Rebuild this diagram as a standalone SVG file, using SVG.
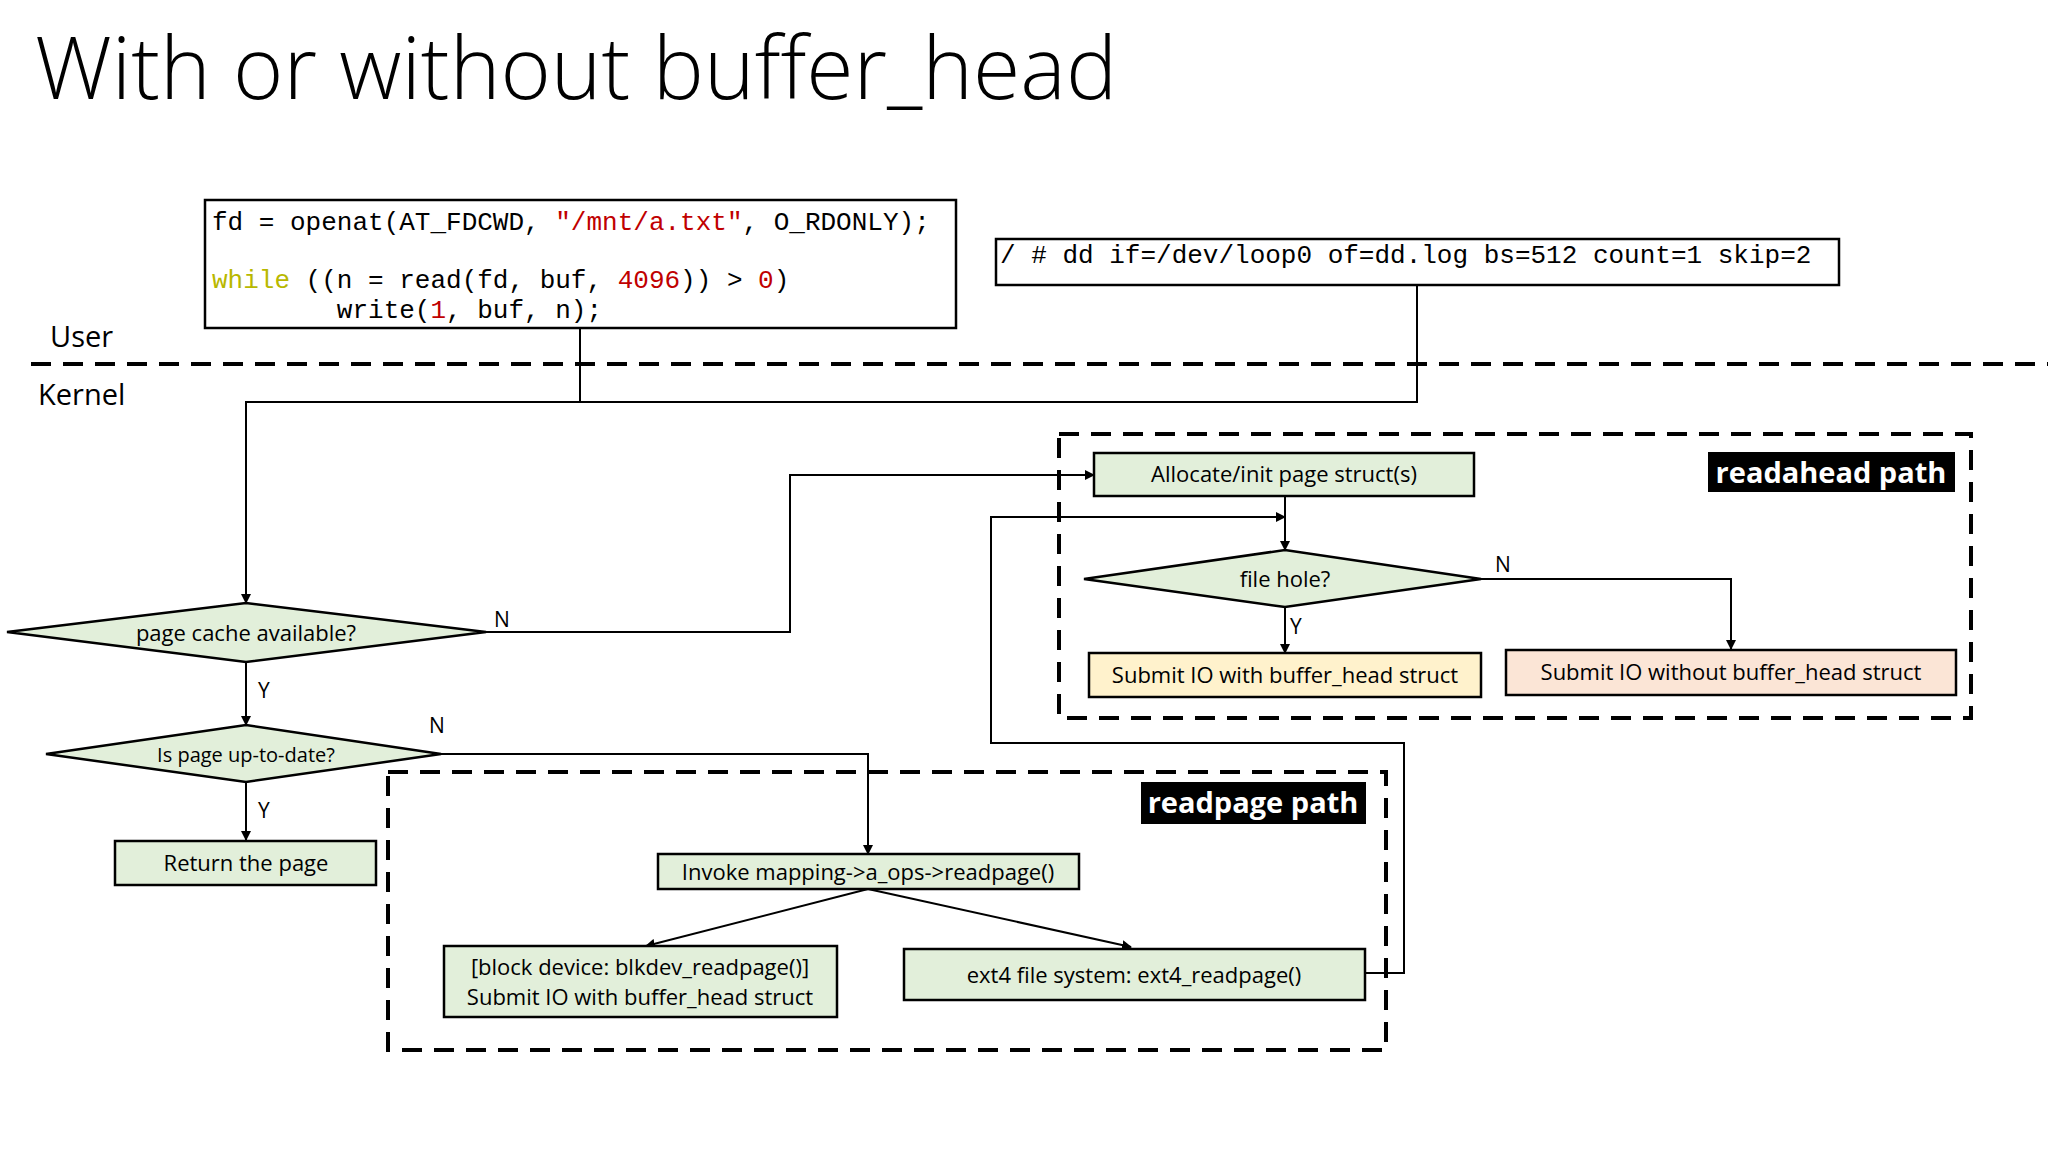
<svg xmlns="http://www.w3.org/2000/svg" width="2048" height="1152" viewBox="0 0 2048 1152">
<defs>
<style>
.t{font-family:"Open Sans","Liberation Sans",sans-serif;font-size:22px;fill:#000;text-anchor:middle}
.code{font-family:"Liberation Mono",monospace;font-size:26px;fill:#000;white-space:pre}
.box{stroke:#000;stroke-width:2.5}
.g{fill:#e2efda}
.ln{fill:none;stroke:#000;stroke-width:2}
.dash{fill:none;stroke:#000;stroke-width:4;stroke-dasharray:20 12}
.lbl{font-family:"Open Sans","Liberation Sans",sans-serif;font-size:21px;fill:#000}
.tag{font-family:"Open Sans","Liberation Sans",sans-serif;font-size:29px;font-weight:bold;fill:#fff;text-anchor:middle}
</style>
<marker id="a" markerWidth="10" markerHeight="10" refX="9" refY="5" orient="auto" markerUnits="userSpaceOnUse"><path d="M0,0 L10,5 L0,10 z" fill="#000"/></marker>
</defs>
<rect width="2048" height="1152" fill="#fff"/>
<text x="35" y="99" font-family="Open Sans, Liberation Sans, sans-serif" font-weight="300" font-size="86" fill="#000">With or without buffer_head</text>
<text x="50" y="347" class="lbl" style="font-size:29px">User</text>
<text x="38" y="405" class="lbl" style="font-size:29px">Kernel</text>
<line x1="31" y1="364" x2="2048" y2="364" class="dash"/>

<g id="code">
<rect x="205" y="200" width="751" height="128" fill="#fff" class="box"/>
<text x="212" y="230" class="code">fd = openat(AT_FDCWD, <tspan fill="#c00000">"/mnt/a.txt"</tspan>, O_RDONLY);</text>
<text x="212" y="288" class="code"><tspan fill="#b8b800">while</tspan> ((n = read(fd, buf, <tspan fill="#c00000">4096</tspan>)) &gt; <tspan fill="#c00000">0</tspan>)</text>
<text x="212" y="318" class="code">        write(<tspan fill="#c00000">1</tspan>, buf, n);</text>
</g>
<g id="dd">
<rect x="996" y="239" width="843" height="46" fill="#fff" class="box"/>
<text x="1000" y="263" class="code">/ # dd if=/dev/loop0 of=dd.log bs=512 count=1 skip=2</text>
</g>

<g id="readahead-group">
<rect x="1059" y="434" width="912" height="284" class="dash"/>
<rect x="1708" y="452" width="247" height="40" fill="#000"/>
<text x="1831" y="483" class="tag">readahead path</text>
</g>
<g id="readpage-group">
<rect x="388" y="772" width="998" height="278" class="dash"/>
<rect x="1141" y="782" width="225" height="42" fill="#000"/>
<text x="1253" y="813" class="tag">readpage path</text>
</g>

<g id="connectors">
<polyline points="580,328 580,402" class="ln"/>
<polyline points="1417,285 1417,402 246,402 246,603" class="ln" marker-end="url(#a)"/>
<polyline points="486,632 790,632 790,475 1094,475" class="ln" marker-end="url(#a)"/>
<polyline points="1285,496 1285,550" class="ln" marker-end="url(#a)"/>
<polyline points="1366,973 1404,973 1404,743 991,743 991,517 1285,517" class="ln" marker-end="url(#a)"/>
<polyline points="1481,579 1731,579 1731,649" class="ln" marker-end="url(#a)"/>
<polyline points="1285,607 1285,653" class="ln" marker-end="url(#a)"/>
<polyline points="246,662 246,725" class="ln" marker-end="url(#a)"/>
<polyline points="441,754 868,754 868,854" class="ln" marker-end="url(#a)"/>
<polyline points="246,782 246,840" class="ln" marker-end="url(#a)"/>
<line x1="868" y1="889" x2="646" y2="946" class="ln" marker-end="url(#a)"/>
<line x1="868" y1="889" x2="1131" y2="947" class="ln" marker-end="url(#a)"/>
<text x="494" y="627" class="lbl">N</text>
<text x="258" y="698" class="lbl">Y</text>
<text x="429" y="733" class="lbl">N</text>
<text x="258" y="818" class="lbl">Y</text>
<text x="1495" y="572" class="lbl">N</text>
<text x="1290" y="634" class="lbl">Y</text>
</g>

<g id="page-cache">
<polygon points="7,632 246,603 486,632 246,662" class="g box"/>
<text x="246" y="641" class="t">page cache available?</text>
</g>
<g id="uptodate">
<polygon points="46,754 246,725 441,754 246,782" class="g box"/>
<text x="246" y="762" class="t" style="font-size:20px">Is page up-to-date?</text>
</g>
<g id="return">
<rect x="115" y="841" width="261" height="44" class="g box"/>
<text x="246" y="871" class="t">Return the page</text>
</g>
<g id="allocate">
<rect x="1094" y="453" width="380" height="43" class="g box"/>
<text x="1284" y="482" class="t">Allocate/init page struct(s)</text>
</g>
<g id="filehole">
<polygon points="1084,579 1285,550 1481,579 1285,607" class="g box"/>
<text x="1285" y="587" class="t">file hole?</text>
</g>
<g id="submit-with">
<rect x="1089" y="653" width="392" height="44" fill="#fff2cc" class="box"/>
<text x="1285" y="683" class="t">Submit IO with buffer_head struct</text>
</g>
<g id="submit-without">
<rect x="1506" y="650" width="450" height="45" fill="#fbe5d6" class="box"/>
<text x="1731" y="680" class="t">Submit IO without buffer_head struct</text>
</g>
<g id="invoke">
<rect x="658" y="854" width="421" height="35" class="g box"/>
<text x="868" y="880" class="t">Invoke mapping-&gt;a_ops-&gt;readpage()</text>
</g>
<g id="blkdev">
<rect x="444" y="946" width="393" height="71" class="g box"/>
<text x="640" y="975" class="t">[block device: blkdev_readpage()]</text>
<text x="640" y="1005" class="t">Submit IO with buffer_head struct</text>
</g>
<g id="ext4">
<rect x="904" y="949" width="461" height="51" class="g box"/>
<text x="1134" y="983" class="t">ext4 file system: ext4_readpage()</text>
</g>
</svg>
